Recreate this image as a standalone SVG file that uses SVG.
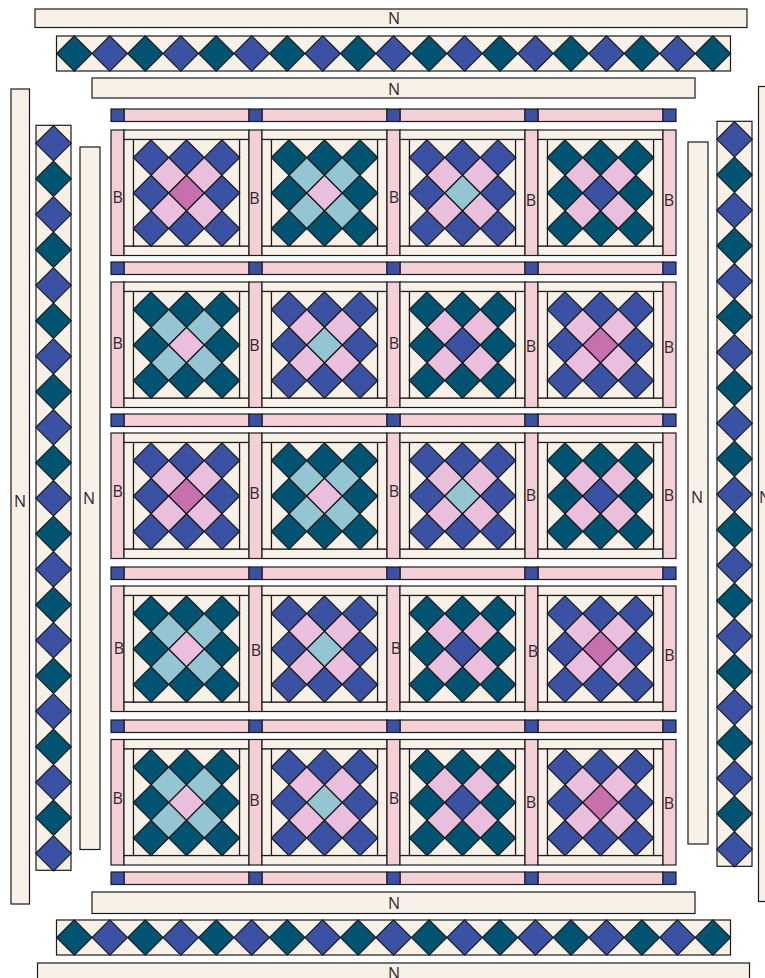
<svg xmlns="http://www.w3.org/2000/svg" width="765" height="978" viewBox="0 0 765 978">
<style>
rect,polygon{stroke:#1c1c1c;stroke-width:1.2}
.c{fill:#f8f1e8}.s{fill:#f4d0d6}.blue{fill:#3b52a4}.teal{fill:#005472}.pink{fill:#e9bfdd}.mag{fill:#c86fae}.lb{fill:#94c5d3}
text{font-family:"Open Sans","Noto Sans",sans-serif;font-size:16px;fill:#2b292a;text-anchor:middle;opacity:.99}
</style>
<defs>
<polygon id="d" points="0,-17.7 17.7,0 0,17.7 -17.7,0"/>
<g id="frame">
<rect class="s" x="0" y="0" width="13" height="125.5"/>
<rect class="c" x="13" y="0" width="125" height="9.5"/>
<rect class="c" x="13" y="116" width="125" height="9.5"/>
<rect class="c" x="13" y="9.5" width="9.5" height="106.5"/>
<rect class="c" x="128.5" y="9.5" width="9.5" height="106.5"/>
<rect class="c" x="22.5" y="9.5" width="106" height="106.5"/>
</g>
<g id="outer">
<use href="#d" x="40" y="27.5"/><use href="#d" x="75.5" y="27.5"/><use href="#d" x="111" y="27.5"/>
<use href="#d" x="40" y="63"/><use href="#d" x="111" y="63"/>
<use href="#d" x="40" y="98.5"/><use href="#d" x="75.5" y="98.5"/><use href="#d" x="111" y="98.5"/>
</g>
<g id="inner">
<use href="#d" x="57.75" y="45.25"/><use href="#d" x="93.25" y="45.25"/>
<use href="#d" x="57.75" y="80.75"/><use href="#d" x="93.25" y="80.75"/>
</g>
<g id="A"><use href="#frame"/><use href="#outer" class="blue"/><use href="#inner" class="pink"/><use href="#d" x="75.5" y="63" class="mag"/></g>
<g id="Bk"><use href="#frame"/><use href="#outer" class="teal"/><use href="#inner" class="lb"/><use href="#d" x="75.5" y="63" class="pink"/></g>
<g id="C"><use href="#frame"/><use href="#outer" class="blue"/><use href="#inner" class="pink"/><use href="#d" x="75.5" y="63" class="lb"/></g>
<g id="D"><use href="#frame"/><use href="#outer" class="teal"/><use href="#inner" class="pink"/><use href="#d" x="75.5" y="63" class="blue"/></g>
<g id="sashrow">
<rect class="s" x="124" y="0" width="125" height="12.5"/><rect class="s" x="262" y="0" width="125" height="12.5"/><rect class="s" x="400" y="0" width="125" height="12.5"/><rect class="s" x="538" y="0" width="125" height="12.5"/>
<rect class="blue" x="111" y="0" width="13" height="12.5"/><rect class="blue" x="249" y="0" width="13" height="12.5"/><rect class="blue" x="387" y="0" width="13" height="12.5"/><rect class="blue" x="525" y="0" width="13" height="12.5"/><rect class="blue" x="663" y="0" width="13" height="12.5"/>
</g>
<g id="hstrip">
<rect class="c" x="56.5" y="-17.5" width="674" height="35"/>
<g class="teal"><use href="#d" x="74.3"/><use href="#d" x="145.3"/><use href="#d" x="216.2"/><use href="#d" x="287.2"/><use href="#d" x="358.1"/><use href="#d" x="429.1"/><use href="#d" x="500"/><use href="#d" x="571"/><use href="#d" x="641.9"/><use href="#d" x="712.9"/></g>
<g class="blue"><use href="#d" x="109.8"/><use href="#d" x="180.8"/><use href="#d" x="251.7"/><use href="#d" x="322.7"/><use href="#d" x="393.6"/><use href="#d" x="464.6"/><use href="#d" x="535.5"/><use href="#d" x="606.5"/><use href="#d" x="677.4"/></g>
</g>
<g id="vstrip">
<rect class="c" x="-17.5" y="-18" width="35" height="745"/>
<g class="blue"><use href="#d" y="0"/><use href="#d" y="71"/><use href="#d" y="142"/><use href="#d" y="213"/><use href="#d" y="284"/><use href="#d" y="355"/><use href="#d" y="426"/><use href="#d" y="497"/><use href="#d" y="568"/><use href="#d" y="639"/><use href="#d" y="710"/></g>
<g class="teal"><use href="#d" y="35.5"/><use href="#d" y="106.5"/><use href="#d" y="177.5"/><use href="#d" y="248.5"/><use href="#d" y="319.5"/><use href="#d" y="390.5"/><use href="#d" y="461.5"/><use href="#d" y="532.5"/><use href="#d" y="603.5"/><use href="#d" y="674.5"/></g>
</g>
</defs>

<g id="border-top">
<g id="n-top1"><rect class="c" x="35" y="9" width="712" height="18.5"/><text x="394" y="24">N</text></g>
<use id="strip-top" href="#hstrip" y="53.5"/>
<g id="n-top2"><rect class="c" x="92" y="78" width="603" height="20"/><text x="394" y="95">N</text></g>
</g>
<g id="border-bottom">
<g id="n-bot2"><rect class="c" x="92" y="892" width="603" height="21.5"/><text x="394" y="909">N</text></g>
<use id="strip-bot" href="#hstrip" y="937.5"/>
<g id="n-bot1"><rect class="c" x="37.5" y="963" width="712" height="20"/><text x="394" y="979">N</text></g>
</g>
<g id="border-left">
<g id="n-left1"><rect class="c" x="11" y="89" width="18.5" height="815"/><text x="20" y="507">N</text></g>
<use id="strip-left" href="#vstrip" x="53.5" y="143.3"/>
<g id="n-left2"><rect class="c" x="80" y="147" width="20" height="702.5"/><text x="89" y="504">N</text></g>
</g>
<g id="border-right">
<g id="n-right2"><rect class="c" x="688" y="142" width="20" height="702"/><text x="697" y="503">N</text></g>
<use id="strip-right" href="#vstrip" x="734.5" y="139.3"/>
<g id="n-right1"><rect class="c" x="758.5" y="86.5" width="20" height="815"/><text x="765" y="503">N</text></g>
</g>

<g id="sashes">
<use href="#sashrow" y="109"/><use href="#sashrow" y="262"/><use href="#sashrow" y="414"/><use href="#sashrow" y="567"/><use href="#sashrow" y="720"/><use href="#sashrow" y="872"/>
</g>

<g id="row1">
<g id="b11"><use href="#A" x="111" y="130"/><text x="117.7" y="203">B</text></g>
<g id="b12"><use href="#Bk" x="249" y="130"/><text x="254.5" y="204">B</text></g>
<g id="b13"><use href="#C" x="387" y="130"/><text x="394" y="203">B</text></g>
<g id="b14"><use href="#D" x="525" y="130"/><text x="531" y="206">B</text></g>
<g id="s15"><rect class="s" x="663" y="130" width="13" height="125.5"/><text x="669" y="206">B</text></g>
</g>
<g id="row2">
<g id="b21"><use href="#Bk" x="111" y="282"/><text x="117.7" y="349">B</text></g>
<g id="b22"><use href="#C" x="249" y="282"/><text x="254.5" y="351">B</text></g>
<g id="b23"><use href="#D" x="387" y="282"/><text x="394" y="349">B</text></g>
<g id="b24"><use href="#A" x="525" y="282"/><text x="531" y="352">B</text></g>
<g id="s25"><rect class="s" x="663" y="282" width="13" height="125.5"/><text x="669" y="353">B</text></g>
</g>
<g id="row3">
<g id="b31"><use href="#A" x="111" y="433"/><text x="117.7" y="497">B</text></g>
<g id="b32"><use href="#Bk" x="249" y="433"/><text x="254.5" y="499">B</text></g>
<g id="b33"><use href="#C" x="387" y="433"/><text x="394" y="497">B</text></g>
<g id="b34"><use href="#D" x="525" y="433"/><text x="531" y="501">B</text></g>
<g id="s35"><rect class="s" x="663" y="433" width="13" height="125.5"/><text x="669" y="501">B</text></g>
</g>
<g id="row4">
<g id="b41"><use href="#Bk" x="111" y="586"/><text x="119" y="654">B</text></g>
<g id="b42"><use href="#C" x="249" y="586"/><text x="256" y="656">B</text></g>
<g id="b43"><use href="#D" x="387" y="586"/><text x="396" y="654">B</text></g>
<g id="b44"><use href="#A" x="525" y="586"/><text x="533" y="657">B</text></g>
<g id="s45"><rect class="s" x="663" y="586" width="13" height="125.5"/><text x="669.5" y="661">B</text></g>
</g>
<g id="row5">
<g id="b51"><use href="#Bk" x="111" y="739.5"/><text x="117.7" y="804">B</text></g>
<g id="b52"><use href="#C" x="249" y="739.5"/><text x="254.5" y="806">B</text></g>
<g id="b53"><use href="#D" x="387" y="739.5"/><text x="394" y="804">B</text></g>
<g id="b54"><use href="#A" x="525" y="739.5"/><text x="531" y="808">B</text></g>
<g id="s55"><rect class="s" x="663" y="739.5" width="13" height="125.5"/><text x="669" y="809">B</text></g>
</g>
</svg>
